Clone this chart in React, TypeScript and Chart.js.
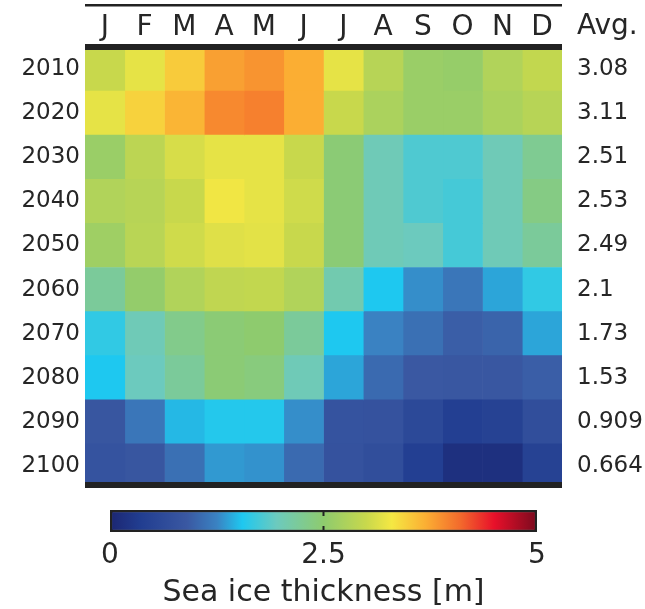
import React, { useEffect, useRef } from 'react';
import { Chart, registerables } from 'chart.js';

Chart.register(...registerables);

// ---------- data ----------
const years = ['2010', '2020', '2030', '2040', '2050', '2060', '2070', '2080', '2090', '2100'];
const months = ['J', 'F', 'M', 'A', 'M', 'J', 'J', 'A', 'S', 'O', 'N', 'D'];
const avgLabels = ['3.08', '3.11', '2.51', '2.53', '2.49', '2.1', '1.73', '1.53', '0.909', '0.664'];

const row2010 = [3.0, 3.2, 3.5, 3.78, 3.85, 3.7, 3.2, 2.85, 2.6, 2.57, 2.8, 2.95];
const row2020 = [3.2, 3.45, 3.65, 3.92, 3.97, 3.7, 3.0, 2.75, 2.6, 2.6, 2.75, 2.85];
const row2030 = [2.6, 2.9, 3.1, 3.2, 3.2, 3.0, 2.45, 2.0, 1.8, 1.8, 2.0, 2.25];
const row2040 = [2.8, 2.85, 3.0, 3.27, 3.2, 3.05, 2.45, 2.0, 1.8, 1.75, 2.0, 2.35];
const row2050 = [2.65, 2.87, 3.05, 3.15, 3.18, 3.0, 2.45, 2.0, 1.95, 1.75, 2.0, 2.2];
const row2060 = [2.2, 2.55, 2.8, 2.93, 2.95, 2.8, 2.05, 1.55, 1.3, 1.15, 1.4, 1.65];
const row2070 = [1.65, 2.0, 2.3, 2.45, 2.5, 2.2, 1.55, 1.25, 1.1, 0.95, 1.0, 1.4];
const row2080 = [1.55, 1.95, 2.2, 2.45, 2.4, 2.0, 1.4, 1.05, 0.9, 0.88, 0.88, 0.95];
const row2090 = [0.85, 1.15, 1.48, 1.58, 1.58, 1.3, 0.8, 0.78, 0.6, 0.4, 0.45, 0.7];
const row2100 = [0.8, 0.85, 1.1, 1.35, 1.32, 1.05, 0.78, 0.7, 0.4, 0.15, 0.15, 0.45];
const thickness = [row2010, row2020, row2030, row2040, row2050, row2060, row2070, row2080, row2090, row2100];

const cbTicks = [0, 2.5, 5];
const cbMin = 0;
const cbMax = 5;

// colormap stops (value, colour)
const cmapValues = [0.0, 0.35, 0.9, 1.25, 1.55, 1.95, 2.5, 3.0, 3.3, 3.7, 4.1, 4.5, 5.0];
const cmapColors = ['#1c2672', '#213d90', '#3a58a2', '#3a82c2', '#1ec8f0', '#6ccabe', '#8ecb6e', '#c8d84c', '#f5e843', '#fbae33', '#f36a2c', '#e8102a', '#7a0a1e'];

// ---------- helpers ----------
const FONT = "'DejaVu Sans', sans-serif";
const TEXT = '#262626';
const LINE = '#222222';

function hexToRgb(h: string) {
  const n = parseInt(h.slice(1), 16);
  return [(n >> 16) & 255, (n >> 8) & 255, n & 255];
}

function colorFor(v: number) {
  const x = Math.max(cbMin, Math.min(cbMax, v));
  let i = 0;
  while (i < cmapValues.length - 2 && x > cmapValues[i + 1]) i++;
  const t = (x - cmapValues[i]) / (cmapValues[i + 1] - cmapValues[i]);
  const a = hexToRgb(cmapColors[i]);
  const b = hexToRgb(cmapColors[i + 1]);
  const c = a.map((av, k) => Math.round(av + (b[k] - av) * t));
  return `rgb(${c[0]},${c[1]},${c[2]})`;
}

const noPad = (s: any) => {
  s.paddingTop = 0;
  s.paddingBottom = 0;
};

const heatDecor = {
  id: 'heatDecor',
  afterDraw(chart: any) {
    const { ctx, chartArea } = chart;
    const { left, right, top, bottom } = chartArea;
    ctx.save();
    ctx.fillStyle = LINE;
    // thin top rule
    ctx.fillRect(left, 4, right - left, 2.5);
    // thick rules
    ctx.fillRect(left, top - 3, right - left, 6);
    ctx.fillRect(left, bottom - 6, right - left, 6);
    // Avg. header
    ctx.fillStyle = TEXT;
    ctx.font = `28px ${FONT}`;
    ctx.textAlign = 'left';
    ctx.textBaseline = 'alphabetic';
    ctx.fillText('Avg.', right + 15, 34);
    ctx.restore();
  },
};

const cbDecor = {
  id: 'cbDecor',
  afterDatasetsDraw(chart: any) {
    const { ctx, chartArea, scales } = chart;
    const x = scales.x.getPixelForValue(2.5);
    ctx.save();
    ctx.strokeStyle = LINE;
    ctx.lineWidth = 2;
    ctx.beginPath();
    ctx.moveTo(x, chartArea.top);
    ctx.lineTo(x, chartArea.top + 6);
    ctx.moveTo(x, chartArea.bottom);
    ctx.lineTo(x, chartArea.bottom - 6);
    ctx.stroke();
    ctx.restore();
  },
};

export default function App() {
  const heatRef = useRef<HTMLCanvasElement>(null);
  const cbRef = useRef<HTMLCanvasElement>(null);

  useEffect(() => {
    const datasets = months.map((m, mi) => ({
      label: m,
      data: years.map(() => [mi, mi + 1]),
      backgroundColor: thickness.map((row) => colorFor(row[mi])),
      borderWidth: 0,
      barPercentage: 1,
      categoryPercentage: 1,
      grouped: false,
      yAxisID: 'y',
    }));

    const heat = new Chart(heatRef.current as HTMLCanvasElement, {
      type: 'bar',
      data: { labels: years, datasets: datasets as any },
      options: {
        indexAxis: 'y',
        animation: false,
        responsive: true,
        maintainAspectRatio: false,
        layout: { padding: { left: 0, right: 0, top: 0, bottom: 7 } },
        plugins: { legend: { display: false }, tooltip: { enabled: false } },
        scales: {
          x: {
            type: 'linear',
            position: 'top',
            min: 0,
            max: 12,
            grid: { display: false, drawTicks: false },
            border: { display: false },
            afterBuildTicks: (s: any) => {
              s.ticks = months.map((_, i) => ({ value: i + 0.5 }));
            },
            ticks: {
              callback: (_v: any, i: number) => months[i],
              font: { family: FONT, size: 28 },
              color: TEXT,
              padding: 2,
              maxRotation: 0,
              autoSkip: false,
            },
            afterFit: (s: any) => {
              s.height = 47;
            },
          },
          y: {
            type: 'category',
            position: 'left',
            offset: true,
            grid: { display: false, drawTicks: false },
            border: { display: false },
            ticks: { font: { family: FONT, size: 23 }, color: TEXT, padding: 5 },
            afterFit: (s: any) => {
              s.width = 85;
              noPad(s);
            },
          },
          y2: {
            type: 'category',
            labels: avgLabels,
            position: 'right',
            offset: true,
            grid: { display: false, drawTicks: false },
            border: { display: false },
            ticks: { font: { family: FONT, size: 23 }, color: TEXT, padding: 15 },
            afterFit: (s: any) => {
              s.width = 83;
              noPad(s);
            },
          },
        },
      } as any,
      plugins: [heatDecor],
    });

    const cb = new Chart(cbRef.current as HTMLCanvasElement, {
      type: 'bar',
      data: {
        labels: [''],
        datasets: [
          {
            data: [[cbMin, cbMax]] as any,
            backgroundColor: (c: any) => {
              const chart = c.chart;
              const { chartArea, scales } = chart;
              if (!chartArea || !scales.x) return cmapColors[0];
              const x0 = scales.x.getPixelForValue(cbMin);
              const x1 = scales.x.getPixelForValue(cbMax);
              const g = chart.ctx.createLinearGradient(x0, 0, x1, 0);
              cmapValues.forEach((v, i) => g.addColorStop((v - cbMin) / (cbMax - cbMin), cmapColors[i]));
              return g;
            },
            borderColor: LINE,
            borderWidth: 2.5,
            borderSkipped: false,
            barPercentage: 1,
            categoryPercentage: 1,
          } as any,
        ],
      },
      options: {
        indexAxis: 'y',
        animation: false,
        responsive: true,
        maintainAspectRatio: false,
        layout: { padding: { left: 110, right: 108, top: 15, bottom: 0 } },
        plugins: { legend: { display: false }, tooltip: { enabled: false } },
        scales: {
          x: {
            type: 'linear',
            position: 'bottom',
            min: cbMin,
            max: cbMax,
            grid: { display: false, drawTicks: false },
            border: { display: false },
            afterBuildTicks: (s: any) => {
              s.ticks = cbTicks.map((v) => ({ value: v }));
            },
            ticks: {
              callback: (v: any) => String(v),
              font: { family: FONT, size: 28 },
              color: TEXT,
              padding: 7,
              maxRotation: 0,
              autoSkip: false,
            },
            title: {
              display: true,
              text: 'Sea ice thickness [m]',
              font: { family: FONT, size: 30 },
              color: TEXT,
              padding: { top: 0, bottom: -2 },
            },
            afterFit: (s: any) => {
              s.height = 77;
            },
          },
          y: { display: false, offset: true },
        },
      } as any,
      plugins: [cbDecor],
    });

    return () => {
      heat.destroy();
      cb.destroy();
    };
  }, []);

  return (
    <div style={{ position: 'absolute', left: 0, top: 0, width: 645, height: 609, background: '#fff' }}>
      <div style={{ position: 'absolute', left: 0, top: 0, width: 645, height: 495 }}>
        <canvas ref={heatRef} />
      </div>
      <div style={{ position: 'absolute', left: 0, top: 495, width: 645, height: 114 }}>
        <canvas ref={cbRef} />
      </div>
    </div>
  );
}
